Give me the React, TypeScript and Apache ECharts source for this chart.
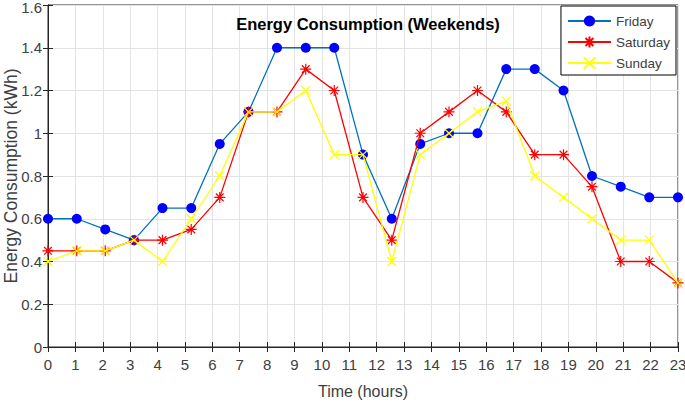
import React, { useEffect, useRef } from "react";
import * as echarts from "echarts";

const hours = [0, 1.05, 2.09, 3.14, 4.18, 5.23, 6.27, 7.32, 8.36, 9.41, 10.45, 11.5, 12.55, 13.59, 14.64, 15.68, 16.73, 17.77, 18.82, 19.86, 20.91, 21.95, 23];
const friday = [0.6, 0.6, 0.55, 0.5, 0.65, 0.65, 0.95, 1.1, 1.4, 1.4, 1.4, 0.9, 0.6, 0.95, 1.0, 1.0, 1.3, 1.3, 1.2, 0.8, 0.75, 0.7, 0.7];
const saturday = [0.45, 0.45, 0.45, 0.5, 0.5, 0.55, 0.7, 1.1, 1.1, 1.3, 1.2, 0.7, 0.5, 1.0, 1.1, 1.2, 1.1, 0.9, 0.9, 0.75, 0.4, 0.4, 0.3];
const sunday = [0.4, 0.45, 0.45, 0.5, 0.4, 0.6, 0.8, 1.1, 1.1, 1.2, 0.9, 0.9, 0.4, 0.9, 1.0, 1.1, 1.15, 0.8, 0.7, 0.6, 0.5, 0.5, 0.3];
const seriesNames = ["Friday", "Saturday", "Sunday"];

const ASTERISK = "path://M0,-1 L0,1 M-1,0 L1,0 M-0.7,-0.7 L0.7,0.7 M-0.7,0.7 L0.7,-0.7";
const CROSS = "path://M-1,-1 L1,1 M-1,1 L1,-1";

export default function App() {
  const ref = useRef<HTMLDivElement>(null);
  useEffect(() => {
    if (!ref.current) return;
    const chart = echarts.init(ref.current, undefined, { renderer: "svg" });
    const axisColor = "#262626";
    const labelColor = "#404040";
    const font = "Liberation Sans, Arial, sans-serif";
    const pair = (ys: number[]) => hours.map((h, i) => [h, ys[i]]);
    chart.setOption({
      animation: false,
      backgroundColor: "#ffffff",
      textStyle: { fontFamily: font },
      title: {
        text: "Energy Consumption (Weekends)",
        left: 363,
        top: 10,
        textAlign: "center",
        textStyle: { fontSize: 16.5, fontWeight: "bold", color: "#000", fontFamily: font },
      },
      grid: { left: 48, right: 7, top: 5, bottom: 56, show: true, borderColor: axisColor, borderWidth: 1, backgroundColor: "#fff", outerBoundsMode: "none", containLabel: false },
      legend: {
        orient: "vertical",
        right: 9,
        top: 6,
        data: seriesNames,
        itemWidth: 43,
        itemHeight: 14,
        itemGap: 7,
        padding: [8, 6, 5, 6],
        backgroundColor: "#fff",
        borderColor: "#000",
        borderWidth: 1,
        borderRadius: 0,
        textStyle: { fontSize: 13.5, color: labelColor, fontFamily: font },
      },
      xAxis: [
        {
          type: "value",
          min: 0,
          max: 23,
          interval: 1,
          name: "Time (hours)",
          nameLocation: "middle",
          nameGap: 36,
          nameMoveOverlap: false,
          nameTextStyle: { fontSize: 16, color: labelColor, fontFamily: font },
          axisLine: { show: true, lineStyle: { color: axisColor } },
          axisTick: { show: true, inside: true, length: 5, lineStyle: { color: axisColor } },
          axisLabel: { fontSize: 15, color: labelColor, margin: 10, fontFamily: font },
          splitLine: { show: true, lineStyle: { color: "#e3e3e3", width: 1 } },
        },
        {
          type: "value",
          position: "top",
          min: 0,
          max: 23,
          interval: 1,
          axisLine: { show: true, lineStyle: { color: axisColor } },
          axisTick: { show: true, inside: true, length: 5, lineStyle: { color: axisColor } },
          axisLabel: { show: false },
          splitLine: { show: false },
        },
      ],
      yAxis: [
        {
          type: "value",
          min: 0,
          max: 1.6,
          interval: 0.2,
          name: "Energy Consumption (kWh)",
          nameLocation: "middle",
          nameGap: 28,
          nameMoveOverlap: false,
          nameTextStyle: { fontSize: 17.5, color: labelColor, fontFamily: font },
          axisLine: { show: true, lineStyle: { color: axisColor } },
          axisTick: { show: true, inside: true, length: 5, lineStyle: { color: axisColor } },
          axisLabel: {
            fontSize: 15,
            color: labelColor,
            margin: 6,
            fontFamily: font,
            formatter: (v: number) => (Math.abs(v - 1.6) < 1e-9 ? "{t|1.6}" : String(+v.toFixed(1))),
            rich: { t: { fontSize: 15, color: labelColor, fontFamily: font, padding: [5, 0, 0, 0] } },
          },
          splitLine: { show: true, lineStyle: { color: "#e3e3e3", width: 1 } },
        },
        {
          type: "value",
          position: "right",
          min: 0,
          max: 1.6,
          interval: 0.2,
          axisLine: { show: true, lineStyle: { color: axisColor } },
          axisTick: { show: true, inside: true, length: 5, lineStyle: { color: axisColor } },
          axisLabel: { show: false },
          splitLine: { show: false },
        },
      ],
      series: [
        {
          name: "Friday",
          type: "line",
          data: pair(friday),
          symbol: "circle",
          symbolSize: 10,
          showAllSymbol: true,
          lineStyle: { color: "#0072BD", width: 1.3 },
          itemStyle: { color: "#0000FF", borderColor: "#0000FF", borderWidth: 0 },
          z: 3,
        },
        {
          name: "Saturday",
          type: "line",
          data: pair(saturday),
          symbol: ASTERISK,
          symbolSize: 11,
          showAllSymbol: true,
          lineStyle: { color: "#FF0000", width: 1.3 },
          itemStyle: { color: "#FF0000", borderColor: "#FF0000", borderWidth: 1.2 },
          z: 4,
        },
        {
          name: "Sunday",
          type: "line",
          data: pair(sunday),
          symbol: CROSS,
          symbolSize: 9,
          showAllSymbol: true,
          lineStyle: { color: "#FFFF00", width: 1.3 },
          itemStyle: { color: "#FFFF00", borderColor: "#FFFF00", borderWidth: 1.2 },
          z: 5,
        },
      ],
    });
    return () => chart.dispose();
  }, []);
  return <div ref={ref} style={{ width: 685, height: 403, position: "absolute", left: 0, top: 0 }} />;
}
